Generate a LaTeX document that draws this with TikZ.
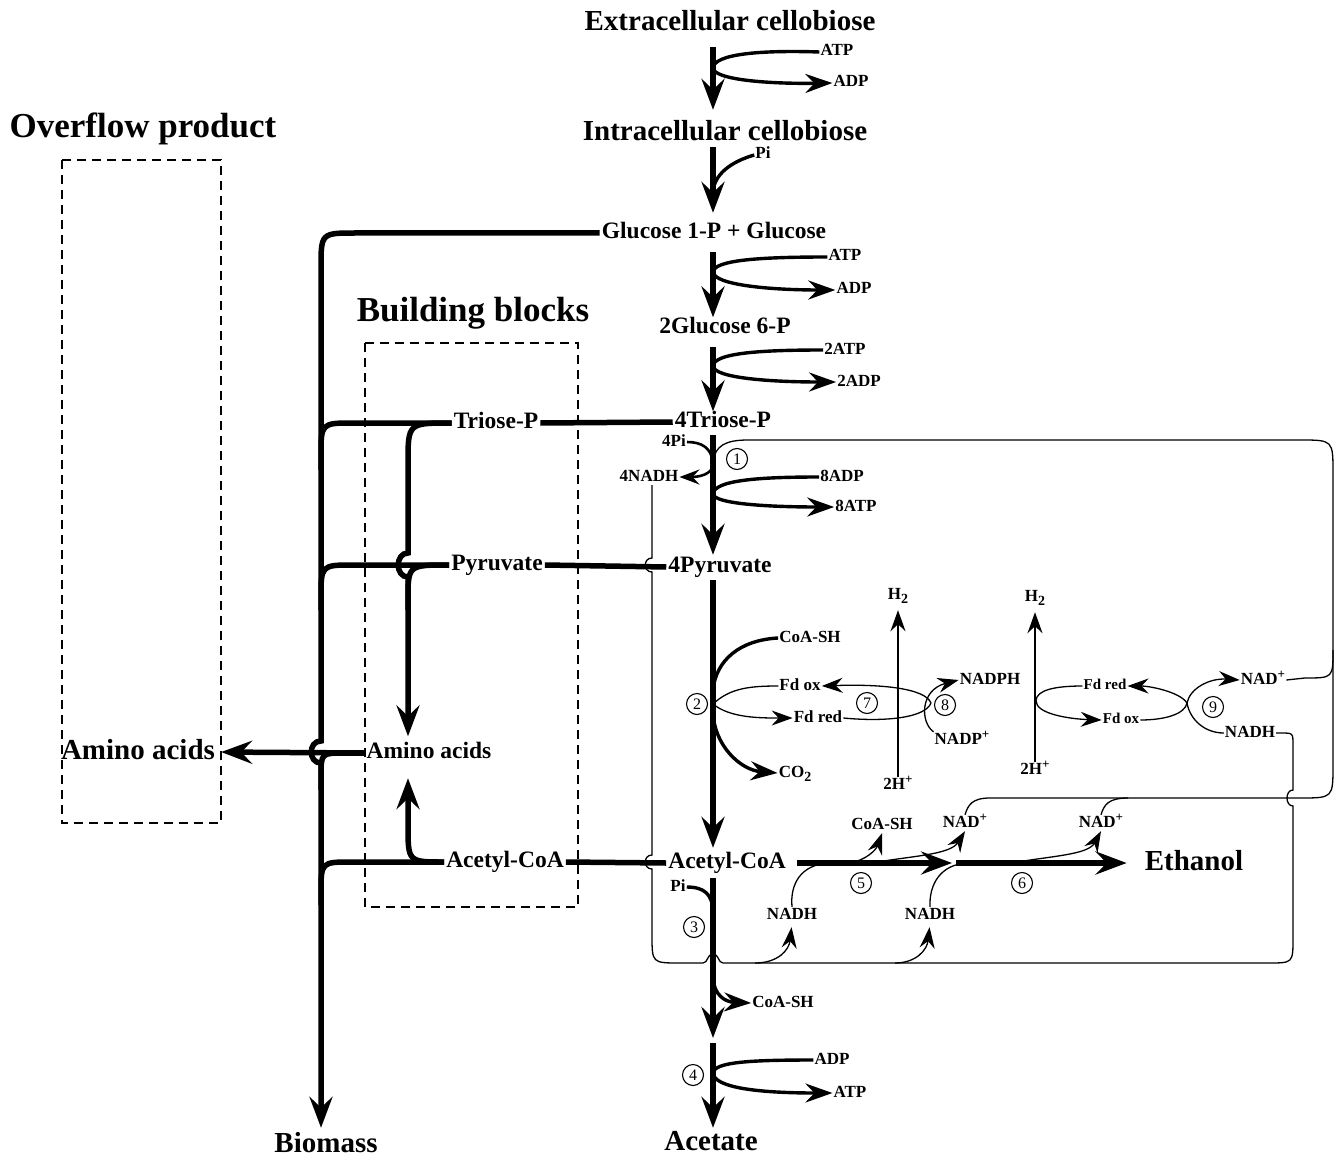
\documentclass[tikz,border=0pt]{standalone}
\usepackage{fontspec}
\setmainfont{Liberation Serif}
\usetikzlibrary{arrows.meta}
\newcommand{\upp}[1]{\raisebox{6pt}{\fontsize{13}{13}\selectfont #1}}
\newcommand{\dwn}[1]{\raisebox{-4pt}{\fontsize{14}{14}\selectfont #1}}

\begin{document}
\begin{tikzpicture}[
	x=1pt, y=-1pt,
	every node/.style={font=\bfseries, inner xsep=2pt, inner ysep=0pt},
	title/.style={font=\fontsize{35}{36}\selectfont\bfseries, text height=23pt, text depth=7pt},
	big/.style={font=\fontsize{29}{30}\selectfont\bfseries, text height=20pt, text depth=5pt},
	mid/.style={font=\fontsize{23.5}{25}\selectfont\bfseries, text height=16pt, text depth=5pt},
	sml/.style={font=\fontsize{17}{18}\selectfont\bfseries, text height=12pt, text depth=4pt, inner xsep=1pt},
	tny/.style={font=\fontsize{15}{16}\selectfont\bfseries, text height=10pt, text depth=3pt, inner xsep=1pt},
	num/.style={draw, circle, line width=1.1pt, inner sep=0pt, minimum size=21pt, font=\fontsize{16}{16}\selectfont},
	thk/.style={line width=5.5pt},
	flow/.style={line width=5.5pt, -{Stealth[length=31pt, width=23pt, inset=11pt]}},
	side/.style={line width=3.4pt},
	sidearr/.style={line width=3.4pt, -{Stealth[length=27pt, width=19pt, inset=9pt]}},
	lite/.style={line width=2.6pt},
	litearr/.style={line width=2.6pt, -{Stealth[length=20pt, width=15pt, inset=7pt]}},
	thin/.style={line width=1.3pt},
	thinarr/.style={line width=1.3pt, -{Stealth[length=21pt, width=15pt, inset=7pt]}},
	pool/.style={dash pattern=on 9pt off 6pt, line width=1.6pt}
]
\useasboundingbox (0,0) rectangle (1343,1158);

\coordinate (mx) at (713,0);
\coordinate (lx) at (321,0);
\coordinate (bx) at (408,0);
\coordinate (nx) at (652,0);

% main pathway
\node[big] (ext) at (730,23) {Extracellular cellobiose};
\node[big] (int) at (725,133) {Intracellular cellobiose};
\node[mid] (g1p) at (714,233) {Glucose 1-P + Glucose};
\node[mid] (g6p) at (725,328) {2Glucose 6-P};
\node[mid] (tp4) at (723,422) {4Triose-P};
\node[mid] (pyr4) at (720,567) {4Pyruvate};
\node[mid] (acc4) at (727,863) {Acetyl-CoA};
\node[big] (ace) at (711,1143) {Acetate};
\node[big] (eth) at (1194,863) {Ethanol};
\coordinate (acp) at (713,1040);

\draw[flow, shorten <=11.5pt, shorten >=10.5pt] (ext.south -| mx) -- (int.north -| mx);
\draw[flow, shorten <=1.5pt, shorten >=9.5pt] (int.south -| mx) -- (g1p.north -| mx);
\draw[flow, shorten <=8.5pt] (g1p.south -| mx) -- (g6p.north -| mx);
\draw[flow, shorten <=8.5pt] (g6p.south -| mx) -- (tp4.north -| mx);
\draw[flow, shorten <=2.5pt, shorten >=1.5pt] (tp4.south -| mx) -- (pyr4.north -| mx);
\draw[flow, shorten <=2.5pt, shorten >=4.5pt] (pyr4.south -| mx) -- (acc4.north -| mx);
\draw[flow, shorten <=4.5pt, shorten >=2pt] (acc4.south -| mx) -- (acp);
\draw[flow, shorten <=3pt, shorten >=2.5pt] (acp) -- (ace.north -| mx);
\coordinate (ald) at (954,863);
\draw[flow, shorten <=9pt, shorten >=2pt] (acc4.east) -- (ald);
\draw[flow, shorten <=2pt, shorten >=16pt] (ald) -- (eth.west);

% side reactions
\node[sml] (atp1) at (837,52) {ATP};
\node[sml] (adp1) at (851,83) {ADP};
\coordinate (r1) at (713,68);
\draw[side] (atp1.west) .. controls (760,50) and (714,54) .. (r1);
\draw[sidearr] (r1) .. controls (714,80) and (770,84) .. (adp1.west);

\node[sml] (pi2) at (763,155) {Pi};
\coordinate (r2) at (713,192);
\draw[side] (pi2.west) .. controls (730,162) and (714,175) .. (r2);

\node[sml] (atp3) at (845,257) {ATP};
\node[sml] (adp3) at (854,290) {ADP};
\coordinate (r3) at (713,272);
\draw[side] (atp3.west) .. controls (760,257) and (714,260) .. (r3);
\draw[sidearr] (r3) .. controls (714,285) and (770,290) .. (adp3.west);

\node[sml] (atp4) at (845,350) {2ATP};
\node[sml] (adp4) at (859,382) {2ADP};
\coordinate (r4) at (713,366);
\draw[side] (atp4.west) .. controls (760,350) and (714,353) .. (r4);
\draw[sidearr] (r4) .. controls (714,378) and (770,382) .. (adp4.west);

\node[sml] (pi5) at (674,442) {4Pi};
\node[sml] (nadh5) at (649,477) {4NADH};
\node[sml] (adp5) at (842,477) {8ADP};
\node[sml] (atp5) at (856,507) {8ATP};
\node[num] (n1) at (737,459) {1};
\coordinate (r5) at (713,462);
\coordinate (r5b) at (713,466);
\coordinate (r6) at (713,494);
\draw[lite] (pi5.east) .. controls (702,442) and (711,448) .. (r5);
\draw[litearr] (r5b) .. controls (711,474) and (700,477) .. (nadh5.east);
\draw[side] (adp5.west) .. controls (760,477) and (714,480) .. (r6);
\draw[sidearr] (r6) .. controls (714,504) and (770,507) .. (atp5.west);

\node[sml] (coa2) at (810,638) {CoA-SH};
\node[sml] (co2) at (795,773) {CO\dwn{2}};
\node[sml] (fdox1) at (800,686) {Fd ox};
\node[sml] (fdred1) at (818,718) {Fd red};
\node[num] (n2) at (697,704) {2};
\coordinate (r10) at (713,690);
\coordinate (r11) at (713,712);
\coordinate (r12) at (713,704);
\draw[side] (coa2.west) .. controls (740,640) and (716,660) .. (r10);
\draw[sidearr] (r11) .. controls (714,745) and (740,770) .. (co2.west);
\draw[thin] (r12) .. controls (730,688) and (750,686) .. (fdox1.west);
\draw[thinarr] (r12) .. controls (730,718) and (760,718) .. (fdred1.west);

\node[sml] (h21) at (898,595) {H\dwn{2}};
\node[sml] (hp1) at (898,785) {2H\upp{+}};
\draw[thinarr, shorten >=7pt] (hp1.north) -- (h21.south);
\node[num] (n7) at (867,703) {7};
\coordinate (e7) at (931,703);
\draw[thinarr] (e7) .. controls (925,688) and (880,684) .. (fdox1.east);
\draw[thin] (fdred1.east) .. controls (885,722) and (925,718) .. (e7);
\node[sml] (nadph) at (990,680) {NADPH};
\node[sml] (nadp) at (962,740) {NADP\upp{+}};
\node[num] (n8) at (945,705) {8};
\draw[thinarr] (nadp.north west) .. controls (920,722) and (920,690) .. (nadph.west);

\node[sml] (h22) at (1035,597) {H\dwn{2}};
\node[sml] (hp2) at (1035,770) {2H\upp{+}};
\draw[thinarr, shorten >=7pt] (hp2.north) -- (h22.south);
\node[tny] (fdred2) at (1105,686) {Fd red};
\node[tny] (fdox2) at (1121,720) {Fd ox};
\coordinate (e9l) at (1036,701);
\coordinate (e9r) at (1187,703);
\draw[thin] (e9l) .. controls (1036,690) and (1055,686) .. (fdred2.west);
\draw[thinarr] (e9l) .. controls (1036,714) and (1070,719) .. (fdox2.west);
\draw[thinarr] (e9r) .. controls (1180,692) and (1150,686) .. (fdred2.east);
\draw[thin] (fdox2.east) .. controls (1165,720) and (1185,714) .. (e9r);
\node[sml] (nad9) at (1263,680) {NAD\upp{+}};
\node[sml] (nadh9) at (1250,733) {NADH};
\node[num] (n9) at (1213,707) {9};
\draw[thinarr] (e9r) .. controls (1190,688) and (1210,678) .. (nad9.west);
\draw[thin] (e9r) .. controls (1190,720) and (1205,733) .. (nadh9.west);

\node[sml] (pi3) at (678,887) {Pi};
\node[num] (n3) at (694,927) {3};
\coordinate (r7) at (713,910);
\draw[side] (pi3.east) .. controls (705,887) and (712,895) .. (r7);
\node[sml] (coa3) at (783,1003) {CoA-SH};
\coordinate (r8) at (713,978);
\draw[sidearr] (r8) .. controls (714,995) and (725,1002) .. (coa3.west);
\node[sml] (adp9) at (832,1060) {ADP};
\node[sml] (atp9) at (850,1093) {ATP};
\node[num] (n4) at (693,1075) {4};
\coordinate (r9) at (713,1073);
\draw[side] (adp9.west) .. controls (750,1060) and (714,1062) .. (r9);
\draw[sidearr] (r9) .. controls (714,1088) and (760,1093) .. (atp9.west);

\node[sml] (coa5) at (882,825) {CoA-SH};
\node[sml] (nad5) at (965,823) {NAD\upp{+}};
\node[sml] (nad6) at (1101,823) {NAD\upp{+}};
\node[sml] (nadha) at (792,915) {NADH};
\node[sml] (nadhb) at (930,915) {NADH};
\node[num] (n5) at (861,883) {5};
\node[num] (n6) at (1022,883) {6};
\coordinate (c5) at (850,863);
\coordinate (c5b) at (872,863);
\coordinate (c6) at (1012,863);
\coordinate (j5) at (830,863);
\coordinate (j6) at (968,863);
\draw[thinarr] (c5) .. controls (866,860) and (876,850) .. (coa5.south);
\draw[thinarr] (c5b) .. controls (910,856) and (950,855) .. (nad5.south);
\draw[thinarr] (c6) .. controls (1050,856) and (1088,855) .. (nad6.south);
\draw[thin] (nadha.north) .. controls (790,885) and (800,864) .. (j5);
\draw[thin] (nadhb.north) .. controls (929,885) and (940,864) .. (j6);

% NAD+ and NADH pools
\draw[thin] (r5) .. controls (715,446) and (725,440) .. (748,440) -- (1300,440) .. controls (1333,440) .. (1333,473) -- (1333,765) .. controls (1333,798) .. (1300,798) -- (990,798) .. controls (972,798) and (968,805) .. (nad5.north);
\coordinate (k6) at (1128,798);
\draw[thin] (k6) .. controls (1108,798) and (1104,805) .. (nad6.north);
\draw[thin] (nad9.east) -- (1305,678) .. controls (1333,678) .. (1333,650);
\draw[thin] (nadh5.south -| nx) -- (652,558) .. controls (643,558) and (643,572) .. (652,572) -- (652,855) .. controls (643,855) and (643,869) .. (652,869) -- (652,935) .. controls (652,963) .. (680,963) -- (703,963) .. controls (708,963) and (707,954) .. (713,954) .. controls (719,954) and (718,963) .. (723,963) -- (1268,963) .. controls (1293,963) .. (1293,938) -- (1293,806) .. controls (1285,806) and (1285,790) .. (1293,790) -- (1293,745) .. controls (1293,733) .. (1281,733) -- (nadh9.east);
\coordinate (b5) at (755,963);
\coordinate (b6) at (895,963);
\draw[thinarr, shorten >=4pt] (b5) .. controls (778,963) and (789,950) .. (nadha.south);
\draw[thinarr, shorten >=4pt] (b6) .. controls (916,963) and (927,950) .. (nadhb.south);

% building blocks
\node[title] (ovf) at (143,130) {Overflow product};
\node[title] (bb) at (473,313) {Building blocks};
\node[mid] (tp) at (496,423) {Triose-P};
\node[mid] (pyr) at (497,565) {Pyruvate};
\node[mid] (aa) at (429,753) {Amino acids};
\node[mid] (acc) at (505,862) {Acetyl-CoA};
\node[big] (aao) at (138,752) {Amino acids};
\node[big] (bio) at (326,1145) {Biomass};
\draw[pool] (62,160) rectangle (221,823);
\draw[pool] (365,343) rectangle (578,907);

\draw[thk] (tp4.west) -- (tp.east);
\draw[thk] (pyr4.west) -- (pyr.east);
\draw[thk] (acc4.west) -- (acc.east);
\draw[flow, shorten >=4.5pt] (g1p.west) -- (356,233) .. controls (321,233) .. (321,268) -- (321,741) .. controls (308,741) and (308,763) .. (321,763) -- (bio.north -| lx);
\draw[thk] (tp.west) -- (354,423) .. controls (321,423) .. (321,456) -- (321,470);
\draw[thk] (pyr.west) -- (354,565) .. controls (321,565) .. (321,598) -- (321,610);
\draw[thk] (aa.west) -- (345,753) .. controls (321,753) .. (321,777) -- (321,790);
\draw[thk] (acc.west) -- (352,862) .. controls (321,862) .. (321,893) -- (321,905);
\draw[flow, shorten >=6pt] (tp.west) .. controls (408,423) .. (408,463) -- (408,553) .. controls (395,553) and (395,577) .. (408,577) -- (aa.north -| bx);
\draw[thk] (pyr.west) .. controls (408,565) .. (408,600) -- (408,610);
\draw[flow, shorten >=14.5pt] (acc.west) .. controls (408,862) .. (408,825) -- (aa.south -| bx);
\draw[flow, shorten >=4pt] (aa.west) -- (aao.east);
\end{tikzpicture}
\end{document}
